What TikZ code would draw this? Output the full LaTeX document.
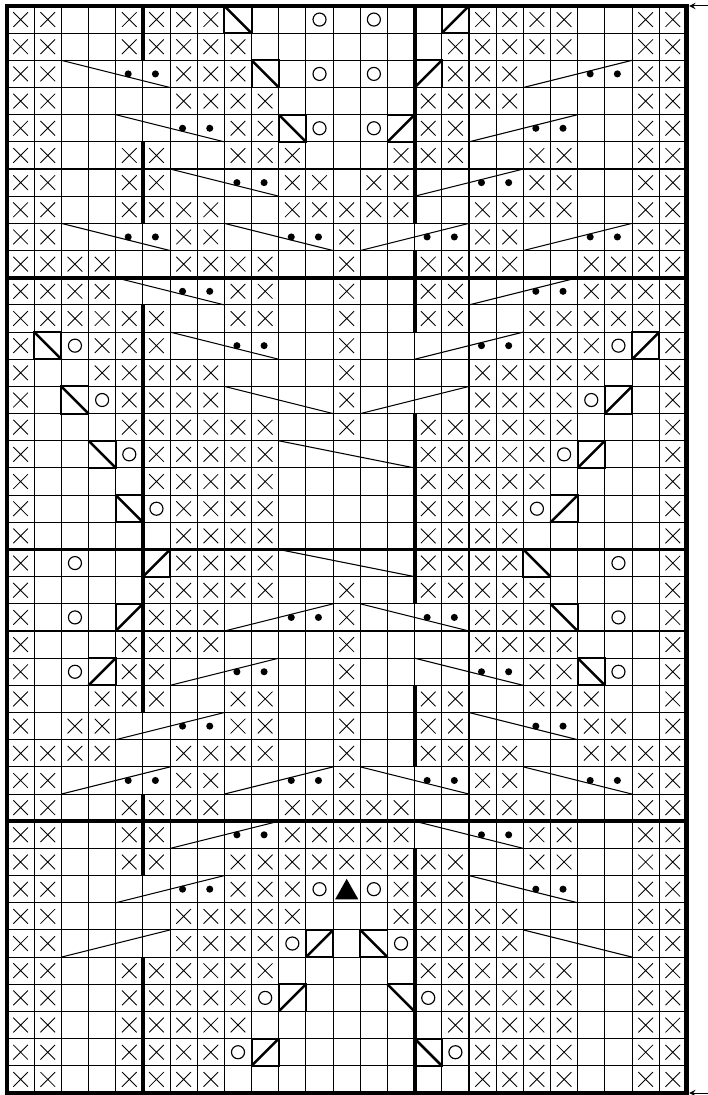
\documentclass[tikz,border=0pt]{standalone}
\usepackage{tikz}
\newcommand\kX{\draw[line width=.45pt] (-.27,-.27)--(.27,.27) (-.27,.27)--(.27,-.27);}
\newcommand\kO{\draw[line width=.6pt] (0,0) circle(.24);}
\newcommand\kL{\draw[line width=1pt] (-.5,-.5) rectangle (.5,.5); \draw[line width=1.3pt] (-.5,.5)--(.5,-.5);}
\newcommand\kR{\draw[line width=1pt] (-.5,-.5) rectangle (.5,.5); \draw[line width=1.3pt] (-.5,-.5)--(.5,.5);}
\newcommand\kD{\fill (-.04,0) circle(.13);}
\newcommand\kT{\fill (0,.38)--(-.43,-.38)--(.43,-.38)--cycle;}
\newcommand\kE{}
\tikzset{gridln/.style={line width=.55pt}, heavy/.style={line width=2pt}, cable/.style={line width=.55pt}}
\begin{document}
\begin{tikzpicture}[scale=.5,>=stealth]
  \useasboundingbox (-.258,-.074) rectangle (25.77,40.22);
  \draw[gridln] (0,0) grid (25,40);
  \foreach \row [count=\r from 0] in {
    {X,X,E,E,X,X,X,X,L,E,E,O,E,O,E,E,R,X,X,X,X,E,E,X,X},
    {X,X,E,E,X,X,X,X,X,E,E,E,E,E,E,E,X,X,X,X,X,E,E,X,X},
    {X,X,E,E,D,D,X,X,X,L,E,O,E,O,E,R,X,X,X,E,E,D,D,X,X},
    {X,X,E,E,E,E,X,X,X,X,E,E,E,E,E,X,X,X,X,E,E,E,E,X,X},
    {X,X,E,E,E,E,D,D,X,X,L,O,E,O,R,X,X,E,E,D,D,E,E,X,X},
    {X,X,E,E,X,X,E,E,X,X,X,E,E,E,X,X,X,E,E,X,X,E,E,X,X},
    {X,X,E,E,X,X,E,E,D,D,X,X,E,X,X,E,E,D,D,X,X,E,E,X,X},
    {X,X,E,E,X,X,X,X,E,E,X,X,X,X,X,E,E,X,X,X,X,E,E,X,X},
    {X,X,E,E,D,D,X,X,E,E,D,D,X,E,E,D,D,X,X,E,E,D,D,X,X},
    {X,X,X,X,E,E,X,X,X,X,E,E,X,E,E,X,X,X,X,E,E,X,X,X,X},
    {X,X,X,X,E,E,D,D,X,X,E,E,X,E,E,X,X,E,E,D,D,X,X,X,X},
    {X,X,X,X,X,X,E,E,X,X,E,E,X,E,E,X,X,E,E,X,X,X,X,X,X},
    {X,L,O,X,X,X,E,E,D,D,E,E,X,E,E,E,E,D,D,X,X,X,O,R,X},
    {X,E,E,X,X,X,X,X,E,E,E,E,X,E,E,E,E,X,X,X,X,X,E,E,X},
    {X,E,L,O,X,X,X,X,E,E,E,E,X,E,E,E,E,X,X,X,X,O,R,E,X},
    {X,E,E,E,X,X,X,X,X,X,E,E,X,E,E,X,X,X,X,X,X,E,E,E,X},
    {X,E,E,L,O,X,X,X,X,X,E,E,E,E,E,X,X,X,X,X,O,R,E,E,X},
    {X,E,E,E,E,X,X,X,X,X,E,E,E,E,E,X,X,X,X,X,E,E,E,E,X},
    {X,E,E,E,L,O,X,X,X,X,E,E,E,E,E,X,X,X,X,O,R,E,E,E,X},
    {X,E,E,E,E,E,X,X,X,X,E,E,E,E,E,X,X,X,X,E,E,E,E,E,X},
    {X,E,O,E,E,R,X,X,X,X,E,E,E,E,E,X,X,X,X,L,E,E,O,E,X},
    {X,E,E,E,E,X,X,X,X,X,E,E,X,E,E,X,X,X,X,X,E,E,E,E,X},
    {X,E,O,E,R,X,X,X,E,E,D,D,X,E,E,D,D,X,X,X,L,E,O,E,X},
    {X,E,E,E,X,X,X,X,E,E,E,E,X,E,E,E,E,X,X,X,X,E,E,E,X},
    {X,E,O,R,X,X,E,E,D,D,E,E,X,E,E,E,E,D,D,X,X,L,O,E,X},
    {X,E,E,X,X,X,E,E,X,X,E,E,X,E,E,X,X,E,E,X,X,X,E,E,X},
    {X,E,X,X,E,E,D,D,X,X,E,E,X,E,E,X,X,E,E,D,D,X,X,E,X},
    {X,X,X,X,E,E,X,X,X,X,E,E,X,E,E,X,X,X,X,E,E,X,X,X,X},
    {X,X,E,E,D,D,X,X,E,E,D,D,X,E,E,D,D,X,X,E,E,D,D,X,X},
    {X,X,E,E,X,X,X,X,E,E,X,X,X,X,X,E,E,X,X,X,X,E,E,X,X},
    {X,X,E,E,X,X,E,E,D,D,X,X,X,X,X,E,E,D,D,X,X,E,E,X,X},
    {X,X,E,E,X,X,E,E,X,X,X,X,X,X,X,X,X,E,E,X,X,E,E,X,X},
    {X,X,E,E,E,E,D,D,X,X,X,O,T,O,X,X,X,E,E,D,D,E,E,X,X},
    {X,X,E,E,E,E,X,X,X,X,X,E,E,E,X,X,X,X,X,E,E,E,E,X,X},
    {X,X,E,E,E,E,X,X,X,X,O,R,E,L,O,X,X,X,X,E,E,E,E,X,X},
    {X,X,E,E,X,X,X,X,X,X,E,E,E,E,E,X,X,X,X,X,X,E,E,X,X},
    {X,X,E,E,X,X,X,X,X,O,R,E,E,E,L,O,X,X,X,X,X,E,E,X,X},
    {X,X,E,E,X,X,X,X,X,E,E,E,E,E,E,E,X,X,X,X,X,E,E,X,X},
    {X,X,E,E,X,X,X,X,O,R,E,E,E,E,E,L,O,X,X,X,X,E,E,X,X},
    {X,X,E,E,X,X,X,X,E,E,E,E,E,E,E,E,E,X,X,X,X,E,E,X,X}}
    \foreach \s [count=\c from 0] in \row {
      \begin{scope}[shift={(\c+.5,39.5-\r)}]\csname k\s\endcsname\end{scope}
    };
  \foreach \a/\b/\r in {2/6/2,4/8/4,6/10/6,2/6/8,8/12/8,4/8/10,6/10/12,8/12/14,10/15/16,
    10/15/20,13/17/22,15/19/24,17/21/26,13/17/28,19/23/28,15/19/30,17/21/32,19/23/34}
    \draw[cable] (\a,40-\r)--(\b,39-\r);
  \foreach \a/\b/\r in {19/23/2,17/21/4,15/19/6,13/17/8,19/23/8,17/21/10,15/19/12,13/17/14,
    8/12/22,6/10/24,4/8/26,2/6/28,8/12/28,6/10/30,4/8/32,2/6/34}
    \draw[cable] (\a,39-\r)--(\b,40-\r);
  \foreach \x/\a/\b in {5/0/2,5/5/8,5/11/26,5/29/32,5/35/40,15/0/8,15/9/12,15/15/22,15/25/28,15/31/40}
    \draw[heavy] (\x,40-\a)--(\x,40-\b);
  \foreach \y in {10,20,30} \draw[heavy] (0,\y)--(25,\y);
  \draw[line width=2.3pt] (0,0) rectangle (25,40);
  \coordinate (topIn) at (25.1,40); \coordinate (topOut) at (25.8,40);
  \coordinate (botIn) at (25.1,0); \coordinate (botOut) at (25.8,0);
  \draw[->,line width=.5pt] (topOut)--(topIn);
  \draw[->,line width=.5pt] (botOut)--(botIn);
\end{tikzpicture}
\end{document}
